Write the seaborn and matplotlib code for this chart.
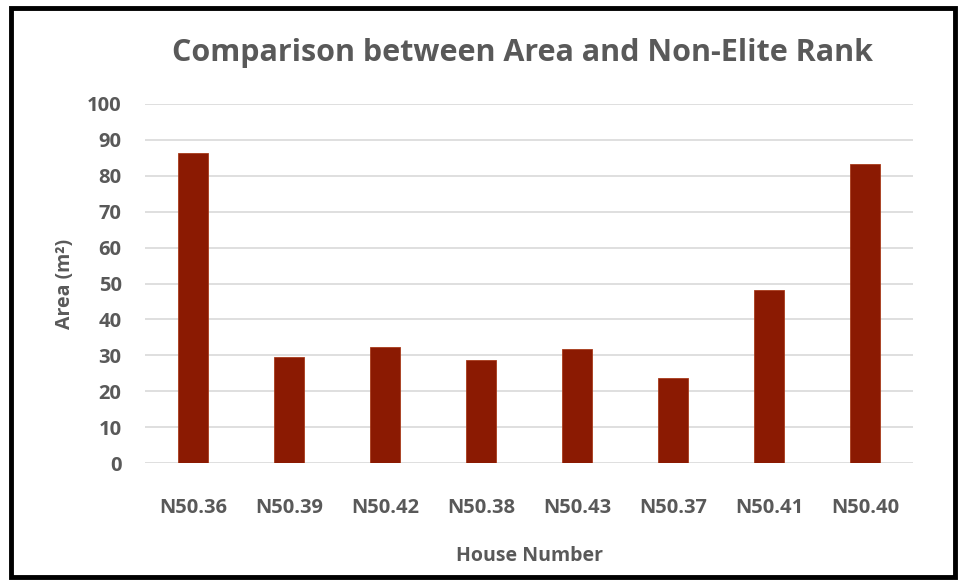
import matplotlib
matplotlib.use("Agg")
import matplotlib.pyplot as plt
import seaborn as sns
import pandas as pd
from matplotlib.patches import Rectangle

houses = ['N50.36', 'N50.39', 'N50.42', 'N50.38', 'N50.43', 'N50.37', 'N50.41', 'N50.40']
area = [86.4, 29.4, 32.2, 28.7, 31.9, 23.6, 48.1, 83.4]
yticks = list(range(0, 101, 10))

df = pd.DataFrame({'House': houses, 'Area': area})

sns.set_theme(style='white')
plt.rcParams['font.family'] = ['Open Sans', 'DejaVu Sans']
text_col = '#595959'

fig = plt.figure(figsize=(9.62, 5.81), dpi=100)
ax = fig.add_axes([0.151, 0.203, 0.798, 0.618])

sns.barplot(data=df, x='House', y='Area', color='#8B1A02', width=0.31,
            saturation=1, edgecolor='#A83A1A', linewidth=0.6, ax=ax, zorder=3)

ax.set_ylim(0, 100)
ax.set_xlim(-0.5, len(houses) - 0.5)
ax.set_yticks(yticks)
ax.yaxis.grid(True, color='#D9D9D9', linewidth=1.2, zorder=0)
ax.xaxis.grid(False)
for s in ax.spines.values():
    s.set_visible(False)
ax.tick_params(axis='both', length=0, colors=text_col, labelsize=14.5)
ax.tick_params(axis='x', pad=25)
ax.tick_params(axis='y', pad=17)
for lbl in ax.get_xticklabels() + ax.get_yticklabels():
    lbl.set_fontweight('bold')

ax.set_xlabel('House Number', fontsize=14, fontweight='bold', color=text_col, labelpad=20)
ax.set_ylabel('Area (m²)', fontsize=14, fontweight='bold', color=text_col, labelpad=9)
fig.text(0.543, 0.908, 'Comparison between Area and Non-Elite Rank', ha='center', va='center',
         fontsize=22, fontweight='bold', color=text_col)

fig.patches.append(Rectangle((0.011, 0.007), 0.982, 0.98, transform=fig.transFigure,
                             fill=False, edgecolor='black', linewidth=3.5))

fig.savefig('out.png', dpi=100)
